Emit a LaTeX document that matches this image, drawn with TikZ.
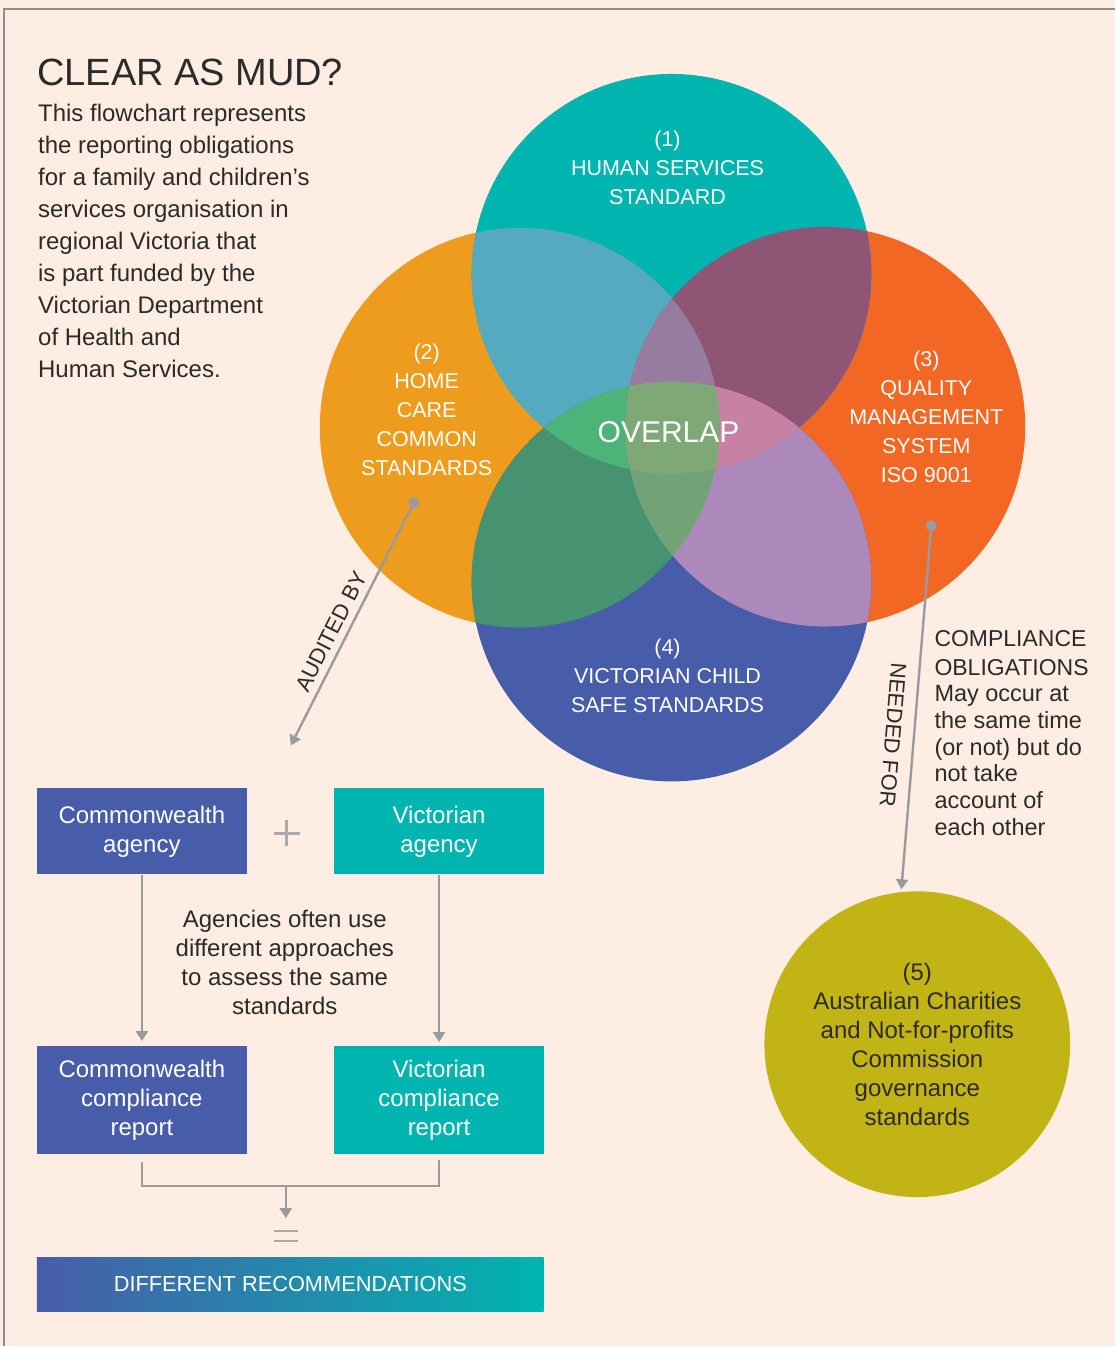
\documentclass[tikz,border=0pt]{standalone}
\usepackage{fontspec}
\setmainfont{Liberation Sans}
\usepackage{xcolor}
\usetikzlibrary{positioning, arrows.meta, calc}

\definecolor{bgpeach}{HTML}{FDEDE2}
\definecolor{framegray}{HTML}{8E8E8E}
\definecolor{inkdark}{HTML}{2B2B2B}
\definecolor{arrowgray}{HTML}{9A9B9E}
\definecolor{tealA}{HTML}{00B5AF}
\definecolor{orangeB}{HTML}{EE9C1D}
\definecolor{redC}{HTML}{F26724}
\definecolor{blueD}{HTML}{475DA9}
\definecolor{olive}{HTML}{C3B416}
\definecolor{mixAB}{HTML}{55AABF}
\definecolor{mixAC}{HTML}{8E5575}
\definecolor{mixBD}{HTML}{479371}
\definecolor{mixCD}{HTML}{AD88BA}
\definecolor{mixABC}{HTML}{977C9F}
\definecolor{mixBCD}{HTML}{71A377}
\definecolor{mixABD}{HTML}{4CB379}
\definecolor{mixACD}{HTML}{C781A5}
\definecolor{mixAll}{HTML}{7EA977}

% venn circles
\newcommand{\vennA}{(cA) circle[radius=200pt]}
\newcommand{\vennB}{(cB) circle[radius=200pt]}
\newcommand{\vennC}{(cC) circle[radius=200pt]}
\newcommand{\vennD}{(cD) circle[radius=200pt]}

\begin{document}
\begin{tikzpicture}[
    x=1pt, y=-1pt,
    link/.style={-{Triangle[length=10pt,width=12pt]}, line width=2.4pt, arrowgray},
    bracketline/.style={line width=2.4pt, arrowgray},
    signline/.style={line width=2.6pt, arrowgray!85},
    dot/.style={circle, fill=arrowgray, minimum size=11pt, inner sep=0pt},
    vlabel/.style={text=white, align=center, font=\fontsize{21.5}{29}\selectfont},
    agencybox/.style={rectangle, minimum width=210pt, inner sep=0pt, text=white, align=center, font=\fontsize{24}{29}\selectfont},
    bodytext/.style={text=inkdark, font=\fontsize{24}{29}\selectfont},
    arrowlabel/.style={text=inkdark, font=\fontsize{22}{26}\selectfont}
  ]
  % background and frame
  \fill[bgpeach] (0,0) rectangle (1116,1347);
  \draw[framegray, line width=2pt] (4,1347) -- (4,9) -- (1116,9);

  % heading
  \node[anchor=west, inner sep=0pt, text=inkdark, font=\fontsize{38}{40}\selectfont] (title) at (37,72.5) {CLEAR AS MUD?};
  \node[anchor=west, inner sep=0pt, align=left, text=inkdark, font=\fontsize{24}{32}\selectfont] (intro) at (38,241)
    {This flowchart represents\\the reporting obligations\\for a family and children's\\services organisation in\\regional Victoria that\\is part funded by the\\Victorian Department\\of Health and\\Human Services.};

  % Venn centres
  \coordinate (cA) at (672,274);
  \coordinate (cB) at (520,428);
  \coordinate (cC) at (826,427);
  \coordinate (cD) at (672,582);

  % single circles
  \fill[orangeB] \vennB;
  \fill[redC] \vennC;
  \fill[tealA] \vennA;
  \fill[blueD] \vennD;
  % pairs
  \begin{scope}
    \clip \vennA;
    \fill[mixAB] \vennB;
    \fill[mixAC] \vennC;
  \end{scope}
  \begin{scope}
    \clip \vennD;
    \fill[mixBD] \vennB;
    \fill[mixCD] \vennC;
  \end{scope}
  % triples
  \begin{scope}
    \clip \vennA;
    \clip \vennB;
    \fill[mixABC] \vennC;
    \fill[mixABD] \vennD;
  \end{scope}
  \begin{scope}
    \clip \vennA;
    \clip \vennC;
    \fill[mixACD] \vennD;
  \end{scope}
  \begin{scope}
    \clip \vennD;
    \clip \vennB;
    \fill[mixBCD] \vennC;
  \end{scope}
  % all four
  \begin{scope}
    \clip \vennA;
    \clip \vennB;
    \clip \vennC;
    \fill[mixAll] \vennD;
  \end{scope}

  % Venn labels
  \node[vlabel] (labA) at (668,168) {(1)\\HUMAN SERVICES\\STANDARD};
  \node[vlabel] (labB) at (427,410.5) {(2)\\HOME\\CARE\\COMMON\\STANDARDS};
  \node[vlabel] (labC) at (927,417) {(3)\\QUALITY\\MANAGEMENT\\SYSTEM\\ISO 9001};
  \node[vlabel] (labD) at (668,676) {(4)\\VICTORIAN CHILD\\SAFE STANDARDS};
  \node[text=white, font=\fontsize{30}{32}\selectfont] (overlap) at (669,432) {OVERLAP};

  % Charities circle
  \node[circle, fill=olive, minimum size=306pt, inner sep=0pt, align=center, text=inkdark,
        font=\fontsize{24}{29}\selectfont] (acnc) at (918,1045)
    {(5)\\Australian Charities\\and Not-for-profits\\Commission\\governance\\standards};

  % audited by
  \node[dot] (auditdot) at (414,503) {};
  \coordinate (auditend) at (291,746);
  \draw[link] (auditdot.center) -- node[pos=0.56, sloped, above=3pt, arrowlabel] (auditlab) {AUDITED BY} (auditend);

  % needed for
  \node[dot] (needdot) at (932,526) {};
  \coordinate (needend) at (902,890);
  \draw[link] (needdot.center) -- node[pos=0.58, rotate=-94.7, anchor=north, inner sep=12pt, arrowlabel] (needlab) {NEEDED FOR} (needend);

  \node[anchor=west, inner sep=0pt, align=left, text=inkdark, font=\fontsize{23}{29}\selectfont] (complhead) at (935,653.5)
    {COMPLIANCE\\OBLIGATIONS};
  \node[anchor=west, inner sep=0pt, align=left, text=inkdark, font=\fontsize{23.5}{26.8}\selectfont] (complbody) at (935,761)
    {May occur at\\the same time\\(or not) but do\\not take\\account of\\each other};

  % agencies
  \node[agencybox, fill=blueD, minimum height=86pt] (cwagency) at (142,832) {Commonwealth\\agency};
  \node[agencybox, fill=tealA, minimum height=86pt, right=87pt of cwagency] (vicagency) {Victorian\\agency};
  \coordinate (plus) at (287,834);
  \draw[signline] ($(plus)+(-13,0)$) -- ($(plus)+(13,0)$);
  \draw[signline] ($(plus)+(0,-13)$) -- ($(plus)+(0,13)$);

  \node[agencybox, fill=blueD, minimum height=108pt] (cwreport) at (142,1101) {Commonwealth\\compliance\\report};
  \node[agencybox, fill=tealA, minimum height=108pt, right=87pt of cwreport] (vicreport) {Victorian\\compliance\\report};

  \draw[link, shorten >=5pt] (cwagency) -- (cwreport);
  \draw[link, shorten >=4pt] (vicagency) -- (vicreport);

  \node[bodytext, align=center] (approach) at (285,963)
    {Agencies often use\\different approaches\\to assess the same\\standards};

  % result
  \coordinate (join) at (286,1187);
  \coordinate (eqtop) at (286,1219);
  \draw[bracketline] ([yshift=-8pt]cwreport.south) |- (join) -| ([yshift=-6pt]vicreport.south);
  \draw[link] (join) -- (eqtop);
  \coordinate (equal) at (286,1237);
  \draw[signline] ($(equal)+(-12,-5)$) -- ($(equal)+(12,-5)$);
  \draw[signline] ($(equal)+(-12,5)$) -- ($(equal)+(12,5)$);

  \node[rectangle, minimum width=507pt, minimum height=54pt, inner sep=0pt, left color=blueD, right color=tealA,
        text=white, font=\fontsize{21.8}{24}\selectfont] (recs) at (290.5,1285) {DIFFERENT RECOMMENDATIONS};
\end{tikzpicture}
\end{document}
